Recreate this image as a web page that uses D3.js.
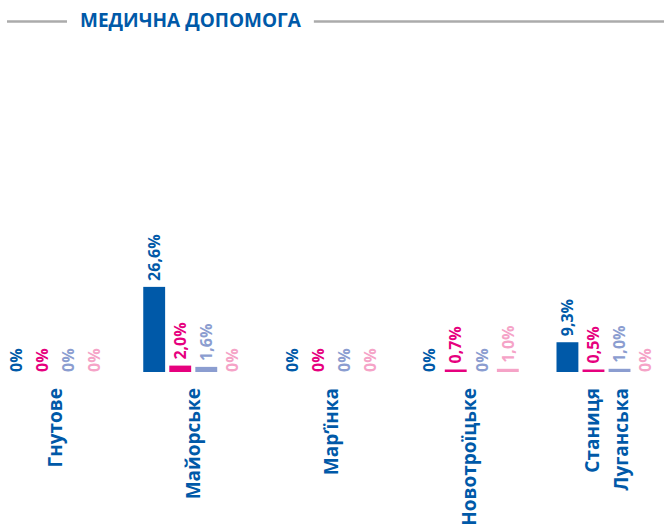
<!DOCTYPE html>
<html>
<head>
<meta charset="utf-8">
<script src="https://cdn.jsdelivr.net/npm/d3@7"></script>
<style>
    body { margin: 0; background: #fff; }
    text { font-family: "Open Sans", sans-serif; font-weight: 700; }
</style>
</head>
<body>
<div id="chart"></div>
<script>
// categories (towns), multi-line names split by "\n"
const towns = ["Гнутове", "Майорське", "Мар\u02BCїнка", "Новотроїцьке", "Станиця\nЛуганська"];
const seriesKeys = ["s1", "s2", "s3", "s4"];
const seriesColors = ["#0059a8", "#e6007e", "#8b9dd0", "#f5a3c7"];

// values in percent, one array per series (in town order)
const s1 = [0, 26.6, 0, 0, 9.3];
const s2 = [0, 2.0, 0, 0.7, 0.5];
const s3 = [0, 1.6, 0, 0, 1.0];
const s4 = [0, 0, 0, 1.0, 0];
const seriesValues = [s1, s2, s3, s4];

const chartTitle = "МЕДИЧНА ДОПОМОГА";

const width = 664, height = 529;
const margin = {top: 52, left: 5.5, baseline: 372};
const groupStep = 137.75;
const groupPad = 0.274;

let svg = d3.select("#chart")
    .append("svg")
    .attr("width", width)
    .attr("height", height);

// title with grey rules either side
svg.append("line")
    .attr("x1", 7).attr("x2", 67)
    .attr("y1", 21.5).attr("y2", 21.5)
    .attr("stroke", "#ababab")
    .attr("stroke-width", 2.5);

let title = svg.append("text")
    .attr("x", 80)
    .attr("y", 27)
    .attr("fill", "#0059a8")
    .style("font-size", "19px")
    .text(chartTitle);

let titleEnd = 80 + title.node().getComputedTextLength();
svg.append("line")
    .attr("x1", titleEnd + 13).attr("x2", width)
    .attr("y1", 21.5).attr("y2", 21.5)
    .attr("stroke", "#ababab")
    .attr("stroke-width", 2.5);

// scales
let x0 = d3.scaleBand()
    .domain(towns)
    .range([margin.left, margin.left + groupStep * (towns.length - groupPad)])
    .paddingInner(groupPad)
    .paddingOuter(0)
    .align(0);

let x1 = d3.scaleBand()
    .domain(seriesKeys)
    .range([0, x0.bandwidth()])
    .paddingInner(0.16)
    .paddingOuter(0);

let y = d3.scaleLinear()
    .domain([0, 100])
    .range([margin.baseline, margin.top]);

let fmt = v => v === 0 ? "0%" : d3.format(".1f")(v).replace(".", ",") + "%";

let groups = svg.selectAll(".town")
    .data(towns)
    .enter().append("g")
    .attr("class", "town")
    .attr("transform", d => `translate(${x0(d)},0)`);

let cells = groups.selectAll(".cell")
    .data((d, i) => seriesKeys.map((k, j) => ({key: k, value: seriesValues[j][i], color: seriesColors[j]})))
    .enter();

// tiny values still get a visible sliver
let barTop = d => d.value > 0 ? Math.min(y(d.value), y(0) - 2.5) : y(0);

cells.append("rect")
    .attr("x", d => x1(d.key))
    .attr("y", barTop)
    .attr("width", x1.bandwidth())
    .attr("height", d => y(0) - barTop(d))
    .attr("fill", d => d.color);

cells.append("text")
    .attr("transform", d => {
        let cx = x1(d.key) + x1.bandwidth() / 2;
        let ty = d.value > 0 ? barTop(d) - 6 : y(0);
        return `translate(${cx},${ty}) rotate(-90)`;
    })
    .attr("dy", "0.36em")
    .attr("fill", d => d.color)
    .style("font-size", "16px")
    .text(d => fmt(d.value));

// category labels, rotated
groups.each(function(d) {
    let lines = d.split("\n");
    let g = d3.select(this);
    let cx = x0.bandwidth() / 2;
    let lineGap = 29;
    lines.forEach((ln, k) => {
        let lx = cx + (k - (lines.length - 1) / 2) * lineGap;
        g.append("text")
            .attr("transform", `translate(${lx},388) rotate(-90)`)
            .attr("text-anchor", "end")
            .attr("dy", "0.36em")
            .attr("fill", "#0059a8")
            .style("font-size", "19px")
            .text(ln);
    });
});
</script>
</body>
</html>
